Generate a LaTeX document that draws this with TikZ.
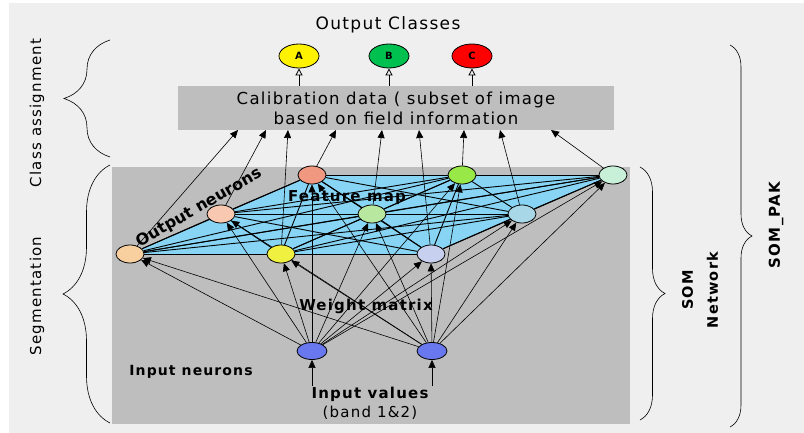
\documentclass[tikz,border=0pt]{standalone}
\usepackage{fontspec}
\setmainfont[LetterSpace=8]{DejaVu Sans}
\newfontfamily\tightfont{DejaVu Sans}
\usetikzlibrary{arrows.meta,decorations.pathreplacing,shapes.geometric}
\definecolor{bggray}{HTML}{EFEFEF}
\definecolor{panelgray}{HTML}{BEBEBE}
\definecolor{mapblue}{HTML}{88D4F4}
\definecolor{inblue}{HTML}{6A78F0}
\pgfdeclarelayer{back}
\pgfsetlayers{back,main}
\tikzset{
	neuron/.style={draw=black, thick, ellipse, inner sep=0pt, minimum width=28pt, minimum height=18pt},
	classnode/.style={draw=black, thick, ellipse, inner sep=0pt, minimum width=40pt, minimum height=24pt, font=\bfseries\fontsize{10}{10}\selectfont},
	wire/.style={draw=black, line width=0.9pt},
	feed/.style={-{Triangle[length=8pt,width=7pt]}, line width=0.6pt},
	bracket/.style={decorate, decoration={brace, amplitude=#1}, semithick},
	lbl/.style={font=\fontsize{15}{17}\selectfont},
	blbl/.style={font=\bfseries\fontsize{15}{17}\selectfont}
}
\begin{document}
\begin{tikzpicture}[x=1pt, y=-1pt]
	\useasboundingbox (0,0) rectangle (804,433);
	% feature map, 3x3 grid
	\node[neuron, fill={rgb,255:red,248;green,208;blue,160}] (N1) at (130,254) {};
	\node[neuron, fill={rgb,255:red,248;green,200;blue,176}] (N2) at (221,214) {};
	\node[neuron, fill={rgb,255:red,240;green,152;blue,128}] (N3) at (312,175) {};
	\node[neuron, fill={rgb,255:red,240;green,240;blue,64}] (N4) at (281,254) {};
	\node[neuron, fill={rgb,255:red,184;green,232;blue,160}] (N5) at (372,214) {};
	\node[neuron, fill={rgb,255:red,152;green,232;blue,72}] (N6) at (462,175) {};
	\node[neuron, fill={rgb,255:red,200;green,208;blue,240}] (N7) at (431,254) {};
	\node[neuron, fill={rgb,255:red,168;green,216;blue,232}] (N8) at (522,214) {};
	\node[neuron, fill={rgb,255:red,200;green,240;blue,216}] (N9) at (613,175) {};
	% input neurons
	\node[neuron, fill=inblue, minimum width=30pt, minimum height=17pt] (I1) at (312,351) {};
	\node[neuron, fill=inblue, minimum width=30pt, minimum height=17pt] (I2) at (432,351) {};
	\coordinate (V1) at (312,386);
	\coordinate (V2) at (432,386);
	% calibration box and classes
	\node[fill=panelgray, minimum width=436pt, minimum height=44pt, align=center, font=\fontsize{16.5}{20}\selectfont] (calib) at (396,108) {Calibration data ( subset of image\\based on field information};
	\node[classnode, fill=yellow] (A) at (299,56) {A};
	\node[classnode, fill={rgb,255:red,0;green,192;blue,80}] (B) at (389,56) {B};
	\node[classnode, fill=red] (C) at (472,56) {C};
	\node[font=\fontsize{17}{17}\selectfont] (T1) at (388,25) {Output Classes};
	\foreach \c in {A,B,C}
		\draw[-{Triangle[open,length=7pt,width=7pt]}, thick] (\c |- calib.north) -- (\c);
	\begin{pgfonlayer}{back}
		\fill[white] (0,0) rectangle (804,433);
		\fill[bggray] (9,3) rectangle (804,433);
		\fill[panelgray] (112,167) rectangle (630,424);
		\fill[mapblue] (N1.center) -- (N3.center) -- (N9.center) -- (N7.center) -- cycle;
		% links between map neurons
		\foreach \i in {1,...,9} {
			\foreach \j in {1,...,9} {
				\ifnum\j>\i \draw[wire] (N\i) -- (N\j); \fi
			}
		}
		% weight matrix
		\foreach \i in {1,...,9} {
			\draw[feed] (I1) -- (N\i);
			\draw[feed] (I2) -- (N\i);
		}
		% map to calibration data
		\foreach \n/\x in {1/238, 2/266, 4/288, 3/336, 5/382, 7/419, 6/464, 8/500, 9/551} {
			\coordinate (E\n) at (\x,130);
			\draw[feed] (N\n) -- (E\n);
		}
	\end{pgfonlayer}
	\draw[feed] (V1) -- (I1);
	\draw[feed] (V2) -- (I2);
	% labels
	\node[rotate=30, font=\tightfont\bfseries\fontsize{16}{18}\selectfont] (L1) at (199,208) {Output neurons};
	\node[blbl] (L2) at (347,198) {Feature map};
	\node[blbl] (L3) at (366,306) {Weight matrix};
	\node[blbl, font=\bfseries\fontsize{14}{16}\selectfont] (L4) at (191,372) {Input neurons};
	\node[blbl] (L5) at (370,394) {Input values};
	\node[lbl] (L6) at (370,413) {(band 1\&2)};
	% braces
	\draw[bracket=46pt] (110,157) -- (110,40);
	\draw[bracket=47pt] (110,423) -- (110,165);
	\draw[bracket=25pt] (640,167) -- (640,420);
	\draw[bracket=22pt] (730,45) -- (730,427);
	\node[lbl, rotate=90] (L7) at (37,113) {Class assignment};
	\node[lbl, rotate=90] (L8) at (37,296) {Segmentation};
	\node[blbl, rotate=90, align=center, font=\bfseries\fontsize{14.5}{25}\selectfont] (L9) at (700,290) {SOM\\Network};
	\node[blbl, rotate=90] (L10) at (776,225) {SOM\_PAK};
\end{tikzpicture}
\end{document}
